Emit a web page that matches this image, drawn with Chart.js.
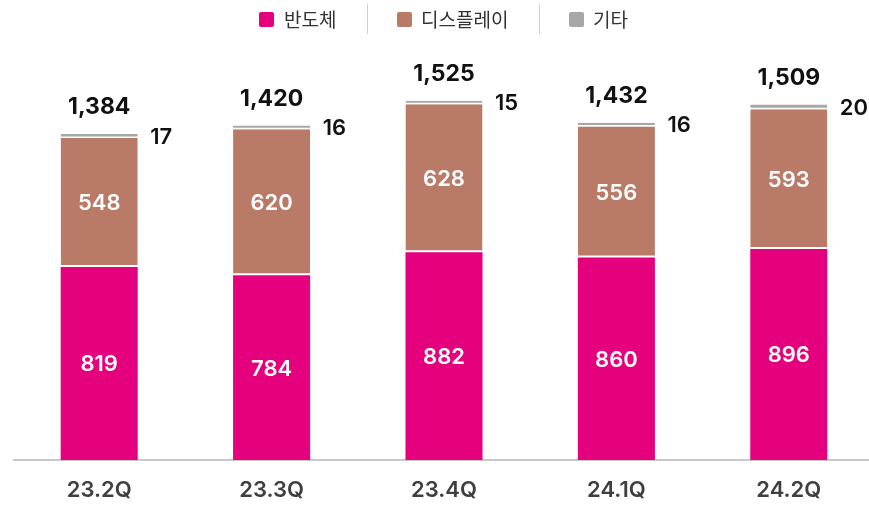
<!DOCTYPE html>
<html>
<head>
<meta charset="utf-8">
<script src="https://cdn.jsdelivr.net/npm/chart.js@4/dist/chart.umd.min.js"></script>
<style>
  html, body { margin: 0; padding: 0; background: #fff; width: 869px; height: 505px; overflow: hidden; }
  #wrap { position: absolute; left: 0; top: 0; width: 875px; height: 522px; }
  #legend { position: absolute; left: 0; top: 0; width: 869px; height: 40px; font-family: "Noto Sans CJK KR", "Noto Sans", sans-serif; font-size: 19px; color: #333; }
  .sw { position: absolute; top: 12px; width: 15px; height: 15px; border-radius: 2px; }
  .lt { position: absolute; top: 5px; line-height: 28px; white-space: nowrap; }
  .sep { position: absolute; top: 4px; width: 1px; height: 30px; background: #cfcfcf; }
</style>
</head>
<body>
<div id="wrap"><canvas id="c" width="875" height="522"></canvas></div>
<div id="legend"></div>
<script>
const categories = ['23.2Q', '23.3Q', '23.4Q', '24.1Q', '24.2Q'];
const seriesNames = ['반도체', '디스플레이', '기타'];
const semiconductor = [819, 784, 882, 860, 896];
const display = [548, 620, 628, 556, 593];
const others = [17, 16, 15, 16, 20];
const totals = [1384, 1420, 1525, 1432, 1509];

const colors = ['#E5007E', '#B97A67', '#A7A7A7'];

// HTML legend
const legend = document.getElementById('legend');
const legendPos = [{sw: 259, tx: 284}, {sw: 397, tx: 421}, {sw: 569, tx: 593}];
seriesNames.forEach((n, i) => {
  const s = document.createElement('div'); s.className = 'sw';
  s.style.left = legendPos[i].sw + 'px'; s.style.background = colors[i];
  legend.appendChild(s);
  const t = document.createElement('div'); t.className = 'lt';
  t.style.left = legendPos[i].tx + 'px'; t.textContent = n;
  legend.appendChild(t);
});
[367, 539].forEach(x => {
  const d = document.createElement('div'); d.className = 'sep'; d.style.left = x + 'px';
  legend.appendChild(d);
});

const NUM_FONT = 'Inter, "Noto Sans", sans-serif';

const axisLine = {
  id: 'axisLine',
  beforeDatasetsDraw(chart) {
    const {ctx, chartArea} = chart;
    ctx.save();
    ctx.fillStyle = '#c8c8c8';
    ctx.fillRect(chartArea.left, chartArea.bottom - 1, 869 - chartArea.left, 2);
    ctx.restore();
  }
};

const labels = {
  id: 'valLabels',
  afterDatasetsDraw(chart) {
    const {ctx} = chart;
    ctx.save();
    const fs = 22;
    [0, 1].forEach(di => {
      const meta = chart.getDatasetMeta(di);
      meta.data.forEach((el, i) => {
        const v = chart.data.datasets[di].data[i];
        const cy = (el.y + el.base) / 2;
        ctx.font = '600 ' + fs + 'px ' + NUM_FONT;
        ctx.fillStyle = '#ffffff';
        ctx.textAlign = 'center';
        ctx.textBaseline = 'alphabetic';
        ctx.fillText(String(v), el.x, cy + fs * 0.36);
      });
    });
    const m2 = chart.getDatasetMeta(2);
    m2.data.forEach((el, i) => {
      const v = chart.data.datasets[2].data[i];
      const cy = (el.y + el.base) / 2;
      ctx.font = '600 ' + fs + 'px ' + NUM_FONT;
      ctx.fillStyle = '#111111';
      ctx.textAlign = 'left';
      ctx.textBaseline = 'alphabetic';
      ctx.fillText(String(v), el.x + el.width / 2 + 12.5, cy + fs * 0.36);
      ctx.font = '700 23px ' + NUM_FONT;
      ctx.textAlign = 'center';
      ctx.fillText(totals[i].toLocaleString('en-US'), el.x, el.y - 20);
    });
    ctx.restore();
  }
};

new Chart(document.getElementById('c'), {
  type: 'bar',
  data: {
    labels: categories,
    datasets: [
      { label: seriesNames[0], data: semiconductor, backgroundColor: colors[0], borderWidth: 0 },
      { label: seriesNames[1], data: display, backgroundColor: colors[1], borderColor: '#ffffff',
        borderWidth: {top: 0, left: 0, right: 0, bottom: 2}, borderSkipped: false },
      { label: seriesNames[2], data: others, backgroundColor: colors[2], borderColor: '#ffffff',
        borderWidth: {top: 0, left: 0, right: 0, bottom: 1.5}, borderSkipped: false }
    ]
  },
  options: {
    responsive: false,
    animation: false,
    devicePixelRatio: 1,
    layout: { padding: { left: 13, right: 0, top: 36, bottom: 1.6 } },
    datasets: { bar: { categoryPercentage: 1, barPercentage: 0.447 } },
    plugins: { legend: { display: false }, tooltip: { enabled: false } },
    scales: {
      x: {
        stacked: true,
        grid: { display: false, drawTicks: false },
        border: { display: false },
        ticks: { color: '#3f3f3f', padding: 17, font: { family: NUM_FONT, size: 22, weight: '600' } }
      },
      y: {
        stacked: true, display: false, min: 0, max: 1800
      }
    }
  },
  plugins: [axisLine, labels]
});
</script>
</body>
</html>
